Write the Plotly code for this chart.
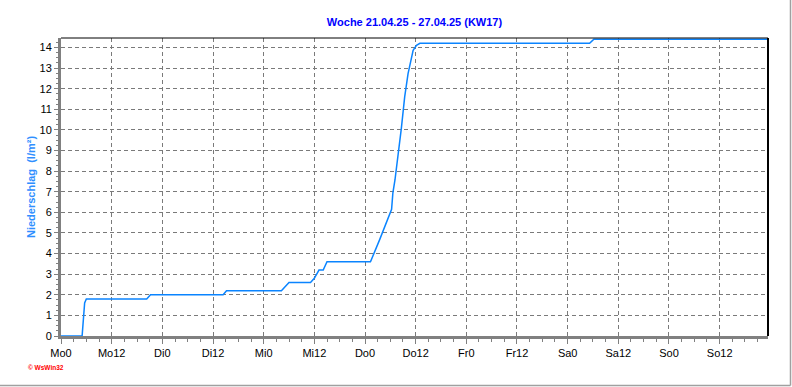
import plotly.graph_objects as go

# Data: hours since Monday 00:00, cumulative precipitation (l/m²)
hours = [0, 5.0, 5.6, 6.0, 20.3, 21.2, 38.4, 39.2, 52.2, 54.0, 59.1, 60.0, 61.1, 62.1, 63.0,
         73.3, 75.5, 76.7, 77.9, 78.3, 78.6, 79.1, 80.6, 81.4, 82.2, 82.8, 83.4, 84.2, 85.0,
         125.2, 126.2, 167.3]
values = [0, 0, 1.6, 1.8, 1.8, 2.0, 2.0, 2.2, 2.2, 2.6, 2.6, 2.8, 3.2, 3.2, 3.6,
          3.6, 4.69, 5.3, 6.0, 6.15, 6.93, 7.57, 10.06, 11.6, 12.73, 13.37, 13.86, 14.1, 14.2,
          14.2, 14.4, 14.4]

tick_hours = list(range(0, 168, 12))
tick_labels = ["Mo0", "Mo12", "Di0", "Di12", "Mi0", "Mi12", "Do0", "Do12",
               "Fr0", "Fr12", "Sa0", "Sa12", "So0", "So12"]
y_ticks = list(range(0, 15))

title_text = "Woche 21.04.25 - 27.04.25 (KW17)"
y_title = "Niederschlag  (l/m²)"

W, H = 792, 387
L, R, T, B = 61, 24, 38, 51
PW, PH = W - L - R, H - T - B

fig = go.Figure()
fig.add_trace(go.Scatter(x=hours, y=values, mode="lines",
                         line=dict(color="#0A84FF", width=1.5), hoverinfo="skip"))

grid = dict(showgrid=True, gridcolor="#7A7A7A", gridwidth=1, griddash="4px,3px")
fig.update_layout(
    width=W, height=H,
    margin=dict(l=L, r=R, t=T, b=B),
    paper_bgcolor="white", plot_bgcolor="white",
    showlegend=False,
    font=dict(family="Arial, Liberation Sans, sans-serif", size=11, color="black"),
    title=dict(text="<b>" + title_text + "</b>", x=(L + PW / 2) / W, xanchor="center",
               y=1 - 22 / H, yanchor="middle", yref="container",
               font=dict(size=11, color="#0000FF")),
    xaxis=dict(range=[0, 167.45], tickmode="array", tickvals=tick_hours, ticktext=tick_labels,
               showline=True, linecolor="#808080", linewidth=3, zeroline=False,
               ticks="outside", ticklen=5, tickcolor="#808080", tickwidth=1,
               minor=dict(dtick=3, ticks="outside", ticklen=3, tickcolor="#808080", showgrid=False),
               **grid),
    yaxis=dict(range=[0, 14.46], tickmode="array", tickvals=y_ticks,
               showline=True, linecolor="#808080", linewidth=3, zeroline=False,
               ticks="outside", ticklen=4, tickcolor="#808080", tickwidth=1,
               minor=dict(dtick=0.25, ticks="outside", ticklen=2, tickcolor="#808080", showgrid=False),
               **grid),
)

# top and right black frame
fig.add_shape(type="line", xref="paper", yref="paper", x0=0, x1=1, y0=1, y1=1,
              line=dict(color="black", width=1))
fig.add_shape(type="line", xref="paper", yref="paper", x0=1, x1=1, y0=0, y1=1,
              line=dict(color="black", width=2))
# outer panel border (right and bottom)
xr = (790.5 - L) / PW
yb = (T + PH - 385.5) / PH
fig.add_shape(type="line", xref="paper", yref="paper", x0=xr, x1=xr, y0=yb, y1=(T + PH) / PH,
              line=dict(color="#A0A0A0", width=1.5))
fig.add_shape(type="line", xref="paper", yref="paper", x0=-L / PW, x1=xr, y0=yb, y1=yb,
              line=dict(color="#A0A0A0", width=1.5))

fig.add_annotation(text="<b>" + y_title + "</b>", xref="paper", yref="paper",
                   x=(31 - L) / PW, y=(T + PH - 187) / PH, textangle=-90, showarrow=False,
                   xanchor="center", yanchor="middle",
                   font=dict(size=11, color="#2F8FFF"))
fig.add_annotation(text="<b>© WsWin32</b>", xref="paper", yref="paper",
                   x=(26 - L) / PW, y=(T + PH - 367.5) / PH, showarrow=False,
                   xanchor="left", yanchor="middle",
                   font=dict(size=6.5, color="#FF0000"))

fig.write_html("out.html")
